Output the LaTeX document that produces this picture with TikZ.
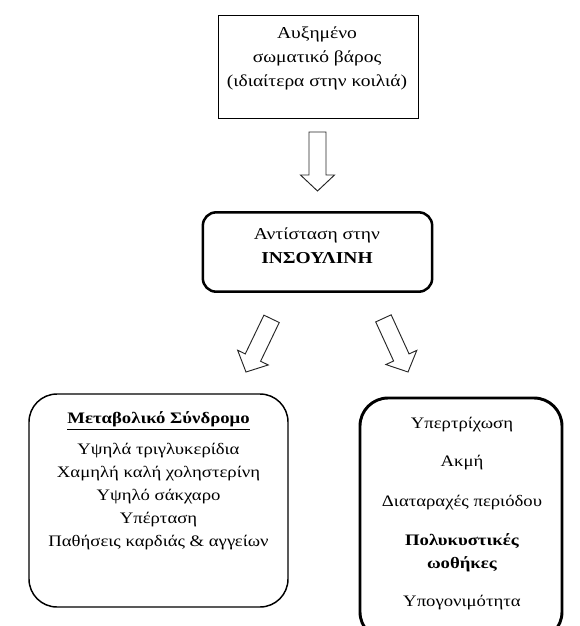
\documentclass[tikz,border=0pt]{standalone}
\usepackage{fontspec}
\setmainfont[FakeStretch=1.17]{Liberation Serif}
\begin{document}
\begin{tikzpicture}[x=0.75pt,y=-0.75pt,
  txt/.style={inner sep=0pt,align=center,font=\fontsize{12}{17.25}\selectfont},
  bigtxt/.style={txt,font=\fontsize{12.5}{18}\selectfont},
  blockarrow/.pic={\draw[draw=black!85,line width=0.7pt,fill=white,line join=miter]
      (0,0) -- (-16,17) -- (-16,8.5) -- (-59,8.5) -- (-59,-8.5) -- (-16,-8.5) -- (-16,-17) -- cycle;}]
\clip (0,0) rectangle (580,626);
\fill[white] (0,0) rectangle (580,626);
% boxes
\node[draw,line width=0.75pt,minimum width=150pt,minimum height=77.25pt] (top) at (318,66.5) {};
\node[draw,line width=1.9pt,rounded corners=10pt,minimum width=172pt,minimum height=59.5pt] (mid) at (317.5,252) {};
\node[draw,line width=1.1pt,rounded corners=21pt,minimum width=194.25pt,minimum height=159.75pt] (left) at (158.5,500.5) {};
\node[draw,line width=2.2pt,rounded corners=21pt,minimum width=151.5pt,minimum height=181.5pt] (right) at (461,519) {};
% texts
\node[bigtxt] (toptext) at (317,58) {Αυξημένο\\σωματικό βάρος\\(ιδιαίτερα στην κοιλιά)};
\node[bigtxt] (midtext) at (317,246) {Αντίσταση στην\\\textbf{ΙΝΣΟΥΛΙΝΗ}};
\node[txt] (ltitle) at (158.5,421) {\textbf{\underline{Μεταβολικό Σύνδρομο}}};
\node[txt] (lbody) at (158.5,497) {Υψηλά τριγλυκερίδια\\Χαμηλή καλή χοληστερίνη\\Υψηλό σάκχαρο\\Υπέρταση\\Παθήσεις καρδιάς \& αγγείων};
\node[txt] (r1) at (462,425) {Υπερτρίχωση};
\node[txt] (r2) at (462,463) {Ακμή};
\node[txt] (r3) at (462,503) {Διαταραχές περιόδου};
\node[txt] (r4) at (462,553) {\textbf{Πολυκυστικές}\\\textbf{ωοθήκες}};
\node[txt] (r5) at (462,603) {Υπογονιμότητα};
% arrows
\coordinate (tipdown) at (317.5,191);
\coordinate (tipleft) at (246,372);
\coordinate (tipright) at (408,372);
\pic[rotate=-90] (adown) at (tipdown) {blockarrow};
\pic[rotate=-115.7] (aleft) at (tipleft) {blockarrow};
\pic[rotate=-65.4] (aright) at (tipright) {blockarrow};
\end{tikzpicture}
\end{document}
